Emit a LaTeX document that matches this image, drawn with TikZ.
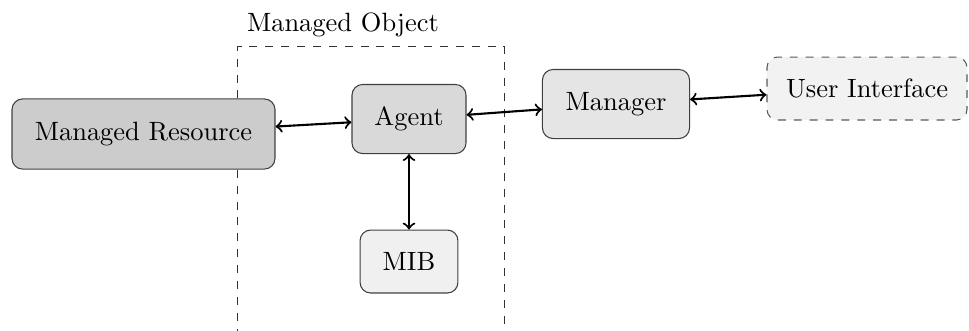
\documentclass[tikz,border=0pt]{standalone}
\usetikzlibrary{arrows}
\begin{document}
\begin{tikzpicture}[x=0.378pt,y=-0.378pt,
  box/.style={draw=black!75,rounded corners=4pt,inner sep=0pt,align=center},
  conn/.style={<->,thick}]
\useasboundingbox (0,0) rectangle (969,330);
% managed object region
\draw[dashed,black!80] (237.7,400) -- (237.7,46.7) coordinate (mo) -- (504.3,46.7) -- (504.3,400);
\node[anchor=south west,inner sep=3.33pt] (molabel) at (mo) {Managed Object};
% nodes
\node[box,fill=black!20,minimum width=99.4pt,minimum height=26.5pt] (res) at (143.5,134) {Managed Resource};
\node[box,fill=black!15,minimum width=43.1pt,minimum height=26.1pt] (agent) at (409,119) {Agent};
\node[box,fill=black!6,minimum width=37pt,minimum height=23.8pt] (mib) at (409,261.5) {MIB};
\node[box,fill=black!10,minimum width=55.6pt,minimum height=26.1pt] (mgr) at (616,104) {Manager};
\node[box,dashed,draw=black!65,fill=black!5,minimum width=75.6pt,minimum height=23.8pt] (ui) at (867,88.5) {User Interface};
% connectors
\draw[conn] (res) -- (agent);
\draw[conn] (agent) -- (mgr);
\draw[conn] (mgr) -- (ui);
\draw[conn] (agent) -- (mib);
\end{tikzpicture}
\end{document}
